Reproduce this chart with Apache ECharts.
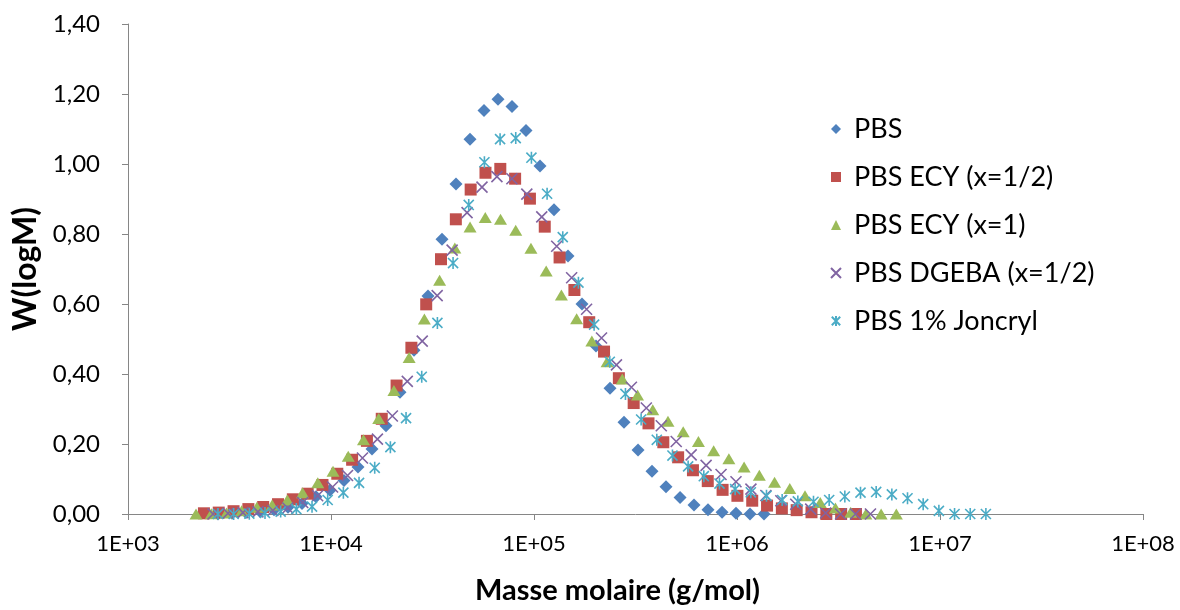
<!DOCTYPE html>
<html>
<head>
<meta charset="utf-8">
<script src="https://cdn.jsdelivr.net/npm/echarts@6/dist/echarts.min.js"></script>
<style>
  html, body { margin: 0; padding: 0; background: #ffffff; }
  #chart { width: 1180px; height: 610px; }
</style>
</head>
<body>
<div id="chart"></div>
<script>
// Molar mass distributions W(logM) from GPC, five PBS grades

const seriesNames = ['PBS', 'PBS ECY (x=1/2)', 'PBS ECY (x=1)', 'PBS DGEBA (x=1/2)', 'PBS 1% Joncryl'];

// PBS
const massPBS = [2775, 3253, 3813, 4470, 5240, 6142, 7199, 8438, 9888, 11590,
  13583, 15922, 18664, 21872, 25639, 30053, 35220, 41284, 48394, 56716,
  66480, 77930, 91330, 107050, 125490, 147080, 172410, 202100, 236860, 277650,
  325450, 381400, 447080, 524080, 614190, 719930, 843920, 988780, 1159000, 1358600];
const wPBS = [0.000, 0.002, 0.004, 0.007, 0.012, 0.019, 0.030, 0.049, 0.068, 0.096,
  0.134, 0.186, 0.252, 0.348, 0.468, 0.623, 0.785, 0.943, 1.071, 1.153,
  1.185, 1.164, 1.096, 0.994, 0.869, 0.737, 0.600, 0.480, 0.359, 0.262,
  0.183, 0.122, 0.078, 0.047, 0.026, 0.012, 0.005, 0.002, 0.000, 0.000];

// PBS ECY (x=1/2)
const massEcyHalf = [2366, 2799, 3311, 3917, 4634, 5483, 6486, 7674, 9078, 10740,
  12706, 15031, 17783, 21038, 24889, 29444, 34834, 41210, 48753, 57677,
  68234, 80724, 95499, 112980, 133660, 158125, 187068, 221309, 261818, 309742,
  366438, 433511, 512861, 606736, 717794, 849180, 1004616, 1188502, 1406048, 1663413,
  1967886, 2328091, 2754229, 3258367, 3854784];
const wEcyHalf = [0.002, 0.004, 0.008, 0.014, 0.020, 0.028, 0.042, 0.058, 0.083, 0.115,
  0.155, 0.209, 0.272, 0.367, 0.475, 0.599, 0.728, 0.842, 0.927, 0.975,
  0.986, 0.958, 0.901, 0.821, 0.733, 0.640, 0.548, 0.464, 0.388, 0.317,
  0.259, 0.205, 0.162, 0.125, 0.094, 0.069, 0.052, 0.038, 0.024, 0.016,
  0.011, 0.005, 0.000, 0.000, 0.000];

// PBS ECY (x=1)
const massEcyOne = [2163, 2570, 3055, 3631, 4315, 5129, 6095, 7244, 8610, 10233,
  12162, 14454, 17179, 20417, 24266, 28840, 34277, 40738, 48417, 57544,
  68391, 81283, 96605, 114815, 136458, 162181, 192752, 229087, 272270, 323594,
  384592, 457088, 543250, 645654, 767361, 912011, 1083927, 1288250, 1531087, 1819701,
  2162719, 2570396, 3054921, 3630781, 4315191, 5128614, 6095369];
const wEcyOne = [0.000, 0.001, 0.003, 0.009, 0.019, 0.026, 0.040, 0.061, 0.089, 0.122,
  0.165, 0.212, 0.273, 0.353, 0.447, 0.557, 0.668, 0.760, 0.820, 0.847,
  0.842, 0.811, 0.759, 0.694, 0.626, 0.558, 0.494, 0.435, 0.386, 0.340,
  0.298, 0.265, 0.235, 0.207, 0.181, 0.158, 0.134, 0.111, 0.091, 0.073,
  0.052, 0.033, 0.017, 0.005, 0.000, 0.000, 0.000];

// PBS DGEBA (x=1/2)
const massDgeba = [2624, 3109, 3683, 4364, 5170, 6124, 7256, 8597, 10181, 12062,
  14289, 16929, 20057, 23761, 28149, 33343, 39502, 46797, 55437, 65676,
  77804, 92174, 109195, 129360, 153253, 181552, 215080, 254799, 301855, 357602,
  423643, 501880, 594568, 704382, 834432, 988553, 1171155, 1387413, 1643646, 1947194,
  2306747, 2732764, 3236958, 3834972, 4543313];
const wDgeba = [0.000, 0.002, 0.004, 0.006, 0.010, 0.017, 0.033, 0.052, 0.077, 0.110,
  0.160, 0.214, 0.280, 0.379, 0.494, 0.624, 0.754, 0.861, 0.934, 0.964,
  0.958, 0.914, 0.849, 0.765, 0.675, 0.585, 0.503, 0.426, 0.362, 0.303,
  0.252, 0.207, 0.169, 0.139, 0.113, 0.092, 0.071, 0.053, 0.038, 0.028,
  0.014, 0.003, 0.000, 0.000, 0.000];

// PBS 1% Joncryl
const massJoncryl = [2775, 3315, 3960, 4730, 5650, 6750, 8064, 9632, 11506, 13745,
  16419, 19612, 23428, 27986, 33430, 39932, 47700, 56980, 68063, 81303,
  97118, 116010, 138580, 165540, 197740, 236210, 282150, 337040, 402600, 480920,
  574470, 686220, 819710, 979160, 1169600, 1397200, 1668900, 1993600, 2381400, 2844600,
  3397900, 4058800, 4848400, 5791400, 6918000, 8264000, 9874000, 11795000, 14089000, 16830000];
const wJoncryl = [0.000, 0.000, 0.001, 0.003, 0.007, 0.014, 0.021, 0.040, 0.061, 0.089,
  0.132, 0.191, 0.274, 0.392, 0.546, 0.717, 0.883, 1.005, 1.071, 1.074,
  1.018, 0.915, 0.791, 0.661, 0.541, 0.435, 0.343, 0.270, 0.212, 0.167,
  0.136, 0.108, 0.087, 0.071, 0.062, 0.052, 0.040, 0.036, 0.035, 0.040,
  0.050, 0.061, 0.063, 0.056, 0.045, 0.028, 0.009, 0.000, 0.000, 0.000];

const xTicks = [1e3, 1e4, 1e5, 1e6, 1e7, 1e8];
const yTicks = [0, 0.2, 0.4, 0.6, 0.8, 1.0, 1.2, 1.4];

const FONT = 'Lato, "Open Sans", sans-serif';
const AXIS_GREY = '#868686';

function pairs(xs, ys) {
  return xs.map((x, i) => [x, ys[i]]);
}

// Stroke-only marker shapes: a cross and an asterisk
const CROSS = 'path://M0,0L10,10M10,0L0,10';
const STAR = 'path://M5,0L5,10M0.8,0.8L9.2,9.2M9.2,0.8L0.8,9.2';

const styles = [
  { symbol: 'diamond', size: [13, 13], item: { color: '#4F81BD' } },
  { symbol: 'rect', size: [12, 12], item: { color: '#C0504D' } },
  { symbol: 'triangle', size: [13, 11], item: { color: '#9BBB59' } },
  { symbol: CROSS, size: [11, 11], item: { color: 'rgba(0,0,0,0)', borderColor: '#8064A2', borderWidth: 1.6 } },
  { symbol: STAR, size: [12, 12], item: { color: 'rgba(0,0,0,0)', borderColor: '#4BACC6', borderWidth: 1.6 } }
];

const dataSets = [
  pairs(massPBS, wPBS),
  pairs(massEcyHalf, wEcyHalf),
  pairs(massEcyOne, wEcyOne),
  pairs(massDgeba, wDgeba),
  pairs(massJoncryl, wJoncryl)
];

const chart = echarts.init(document.getElementById('chart'), null, { renderer: 'canvas' });

chart.setOption({
  backgroundColor: '#ffffff',
  animation: false,
  textStyle: { fontFamily: FONT },
  grid: { left: 128, right: 37, top: 24, bottom: 90, containLabel: false },
  legend: {
    orient: 'vertical',
    left: 825,
    top: 110,
    itemWidth: 10,
    itemHeight: 10,
    itemGap: 20,
    textStyle: { fontFamily: FONT, fontSize: 27, lineHeight: 28, color: '#000000', padding: [0, 0, 0, 8] },
    data: seriesNames
  },
  xAxis: {
    type: 'log',
    logBase: 10,
    min: xTicks[0],
    max: xTicks[xTicks.length - 1],
    splitNumber: 5,
    name: 'Masse molaire (g/mol)',
    nameLocation: 'middle',
    nameGap: 62,
    nameTextStyle: { fontFamily: FONT, fontSize: 29, fontWeight: 'bold', color: '#000000', padding: [0, 36, 0, 0] },
    axisLine: { show: true, lineStyle: { color: AXIS_GREY, width: 1 } },
    axisTick: { show: true, inside: false, length: 6, lineStyle: { color: AXIS_GREY } },
    axisLabel: {
      margin: 19,
      fontFamily: FONT,
      fontSize: 22,
      color: '#000000',
      formatter: v => '1E+' + String(Math.round(Math.log10(v))).padStart(2, '0')
    },
    splitLine: { show: false },
    minorTick: { show: false }
  },
  yAxis: {
    type: 'value',
    min: yTicks[0],
    max: yTicks[yTicks.length - 1],
    interval: 0.2,
    name: 'W(logM)',
    nameLocation: 'middle',
    nameGap: 79,
    nameRotate: 90,
    nameTextStyle: { fontFamily: FONT, fontSize: 32, fontWeight: 'bold', color: '#000000' },
    axisLine: { show: true, lineStyle: { color: AXIS_GREY, width: 1 } },
    axisTick: { show: true, inside: false, length: 6, lineStyle: { color: AXIS_GREY } },
    axisLabel: {
      margin: 28,
      fontFamily: FONT,
      fontSize: 24,
      color: '#000000',
      formatter: v => v.toFixed(2).replace('.', ',')
    },
    splitLine: { show: false }
  },
  series: seriesNames.map((name, i) => ({
    name: name,
    type: 'scatter',
    data: dataSets[i],
    symbol: styles[i].symbol,
    symbolSize: styles[i].size,
    symbolKeepAspect: true,
    itemStyle: Object.assign({ opacity: 1 }, styles[i].item),
    emphasis: { disabled: true },
    z: 2 + i
  }))
});
</script>
</body>
</html>
